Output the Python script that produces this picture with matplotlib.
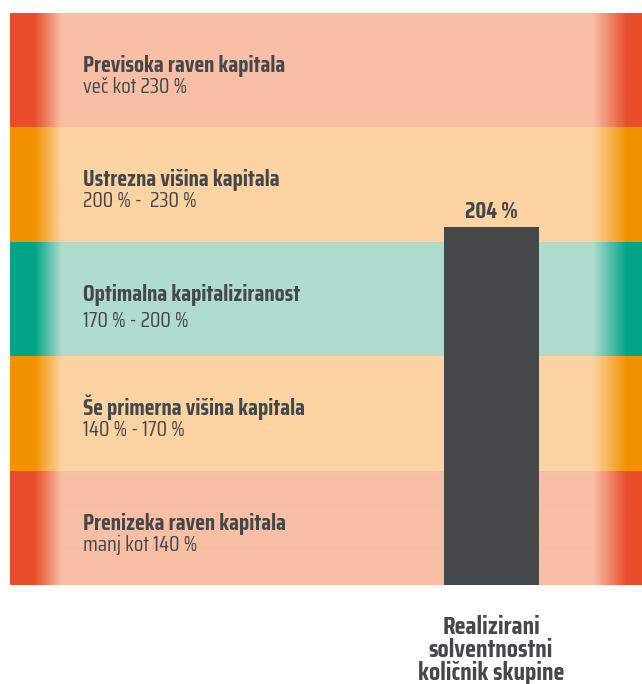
import numpy as np
import matplotlib.pyplot as plt
from matplotlib.colors import to_rgb

plt.rcParams['font.family'] = ['Saira Condensed', 'DejaVu Sans']

# pasovi od spodaj navzgor
meje = [110, 140, 170, 200, 230, 260]
naslovi = ["Prenizeka raven kapitala", "Še primerna višina kapitala",
           "Optimalna kapitaliziranost", "Ustrezna višina kapitala",
           "Previsoka raven kapitala"]
podnaslovi = ["manj kot 140 %", "140 % - 170 %", "170 % - 200 %",
              "200 % -  230 %", "več kot 230 %"]
temne = ["#e94e2b", "#f39200", "#00a587", "#f39200", "#e94e2b"]
svetle = ["#f8bfa5", "#fcd3a2", "#b0dbd0", "#fcd3a2", "#f8bfa5"]

kolicnik = 204
oznaka = ["Realizirani", "solventnostni", "količnik skupine"]

W, H = 642, 684
px = 30 / 114.4  # en piksel v enotah osi y

fig = plt.figure(figsize=(W / 100, H / 100), dpi=100)
ax = fig.add_axes([10 / W, (H - 585) / H, 632 / W, 572 / H])
ax.set_xlim(0, 632)
ax.set_ylim(meje[0], meje[-1])
ax.axis('off')

# gradient na robovih
x = np.arange(632) + 0.5
t_l = np.clip((52 - x) / 27, 0, 1)
t_r = np.clip((x - 583) / 34, 0, 1)
t = np.maximum(t_l, t_r)

for i in range(5):
    c1 = np.array(to_rgb(temne[i]))
    c0 = np.array(to_rgb(svetle[i]))
    img = c0[None, :] * (1 - t[:, None]) + c1[None, :] * t[:, None]
    ax.imshow(img[None, :, :], extent=[0, 632, meje[i], meje[i + 1]],
              aspect='auto', interpolation='bilinear', zorder=1)
    vrh = meje[i + 1]
    dy = 85 if i == 2 else 80
    ax.text(73, vrh - 59 * px, naslovi[i], fontsize=16.6, fontweight='bold',
            color='#44484b', va='baseline', ha='left', zorder=3)
    ax.text(73, vrh - dy * px, podnaslovi[i], fontsize=15.5,
            color='#44484b', va='baseline', ha='left', zorder=3)

ax.set_ylim(meje[0], meje[-1])
ax.bar(481.5, kolicnik - meje[0], bottom=meje[0], width=95,
       color='#45484b', zorder=2)
ax.text(481.5, kolicnik + 9 * px, f"{kolicnik} %", fontsize=16.5,
        fontweight='bold', color='#44484b', ha='center', va='baseline',
        zorder=3)

for j, vrstica in enumerate(oznaka):
    fig.text(491 / W, (H - 634 - 23 * j) / H, vrstica, fontsize=18.5,
             fontweight='bold', color='#44484b', ha='center', va='baseline')

fig.savefig('out.png', dpi=100)
